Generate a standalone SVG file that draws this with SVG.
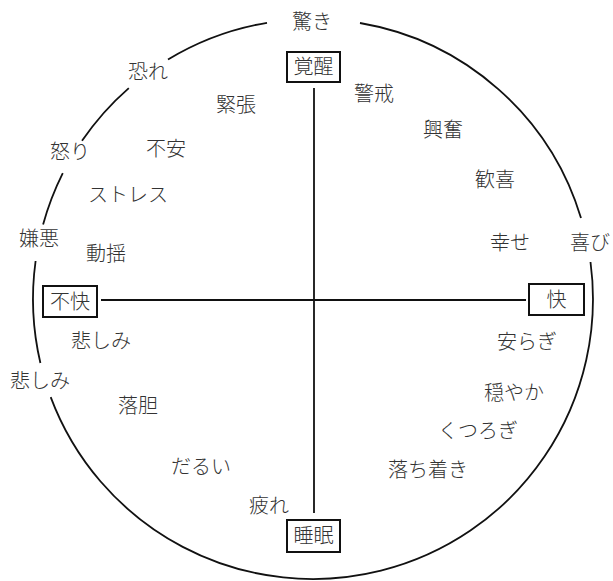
<svg xmlns="http://www.w3.org/2000/svg" width="613" height="581" viewBox="0 0 613 581">
<style>
text{font-family:"Noto Sans CJK JP","Noto Sans CJK SC",sans-serif;font-size:20px;font-weight:300;fill:#333;text-anchor:middle}
.ring{fill:none;stroke:#111;stroke-width:1.8}
.axis{stroke:#111;stroke-width:1.8}
.box{fill:#fff;stroke:#111;stroke-width:2}
</style>
<rect width="613" height="581" fill="#fff"/>
<g id="connectors">
<path class="ring" d="M360.0,23.0 A280,280 0 0 1 581.0,218.1"/>
<path class="ring" d="M590.5,262.0 A280,280 0 0 1 50.7,397.1"/>
<path class="ring" d="M40.4,363.0 A280,280 0 0 1 35.6,261.0"/>
<path class="ring" d="M43.1,224.6 A280,280 0 0 1 62.8,173.2"/>
<path class="ring" d="M82.0,140.8 A280,280 0 0 1 128.8,88.1"/>
<path class="ring" d="M168.0,59.5 A280,280 0 0 1 267.0,22.8"/>
<line class="axis" x1="314" y1="88" x2="314" y2="513"/>
<line class="axis" x1="101" y1="300" x2="526" y2="300"/>
</g>
<g id="n-kakusei"><rect class="box" x="287" y="52" width="53" height="30"/><text x="313.5" y="74">覚醒</text></g>
<g id="n-suimin"><rect class="box" x="287" y="520" width="53" height="32"/><text x="313.5" y="543">睡眠</text></g>
<g id="n-fukai"><rect class="box" x="43" y="286" width="54" height="31"/><text x="70" y="308.5">不快</text></g>
<g id="n-kai"><rect class="box" x="529" y="284" width="55" height="31"/><text x="556.5" y="306.5">快</text></g>
<g id="n-odoroki"><text x="312" y="29">驚き</text></g>
<g id="n-keikai"><text x="374" y="101">警戒</text></g>
<g id="n-osore"><text x="148" y="79">恐れ</text></g>
<g id="n-kincho"><text x="236" y="112">緊張</text></g>
<g id="n-kofun"><text x="443" y="137">興奮</text></g>
<g id="n-ikari"><text x="70" y="159">怒り</text></g>
<g id="n-fuan"><text x="166" y="156">不安</text></g>
<g id="n-kanki"><text x="495" y="187">歓喜</text></g>
<g id="n-stress"><text x="128" y="202">ストレス</text></g>
<g id="n-keno"><text x="39" y="246">嫌悪</text></g>
<g id="n-doyo"><text x="106" y="261">動揺</text></g>
<g id="n-shiawase"><text x="510" y="250">幸せ</text></g>
<g id="n-yorokobi"><text x="590" y="250">喜び</text></g>
<g id="n-kanashimi1"><text x="101" y="348">悲しみ</text></g>
<g id="n-yasuragi"><text x="527" y="349">安らぎ</text></g>
<g id="n-kanashimi2"><text x="40" y="388">悲しみ</text></g>
<g id="n-odayaka"><text x="514" y="400">穏やか</text></g>
<g id="n-rakutan"><text x="138" y="413">落胆</text></g>
<g id="n-kutsurogi"><text x="478" y="438">くつろぎ</text></g>
<g id="n-darui"><text x="201" y="474">だるい</text></g>
<g id="n-ochitsuki"><text x="428" y="477">落ち着き</text></g>
<g id="n-tsukare"><text x="269" y="513">疲れ</text></g>
</svg>
